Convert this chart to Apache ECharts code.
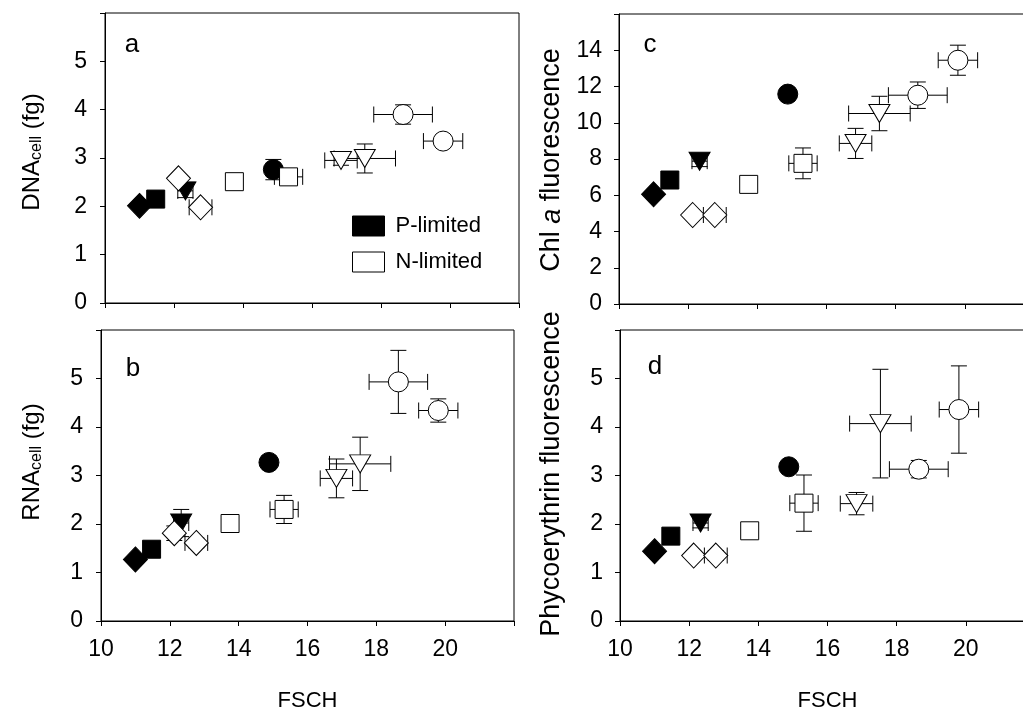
<!DOCTYPE html>
<html>
<head>
<meta charset="utf-8">
<title>FSCH panels</title>
<script src="https://cdn.jsdelivr.net/npm/echarts@6.0.0/dist/echarts.min.js"></script>
<style>
    html, body { margin: 0; padding: 0; background: #fff; }
    #chart { width: 1023px; height: 723px; }
</style>
</head>
<body>
<div id="chart"></div>
<script>
(function () {
    'use strict';

    // one entry per culture, same order in every array
    var limitation = ['P', 'P', 'P', 'P', 'N', 'N', 'N', 'N', 'N', 'N', 'N', 'N'];
    var marker = ['diamond', 'square', 'triangle', 'circle',
        'diamond', 'diamond', 'square', 'square', 'triangle', 'triangle', 'circle', 'circle'];

    var fsch = [11.0, 11.47, 12.33, 14.88, 12.13, 12.77, 13.75, 15.32, 16.84, 17.53, 18.64, 19.8];
    var fschErr = [0.08, 0.1, 0.22, 0.1, 0.1, 0.33, 0.1, 0.41, 0.47, 0.89, 0.85, 0.57];

    var dna = [2.01, 2.15, 2.32, 2.76, 2.58, 1.98, 2.51, 2.61, 2.95, 2.99, 3.9, 3.35];
    var dnaErr = [0.05, 0.05, 0.14, 0.21, 0.05, 0.08, 0.05, 0.1, 0.1, 0.3, 0.2, 0.1];

    var rna = [1.27, 1.48, 2.02, 3.27, 1.81, 1.61, 2.01, 2.3, 2.94, 3.24, 4.93, 4.34];
    var rnaErr = [0.05, 0.05, 0.28, 0.05, 0.15, 0.1, 0.05, 0.29, 0.4, 0.55, 0.65, 0.24];

    var chl = [6.05, 6.84, 7.88, 11.58, 4.91, 4.91, 6.6, 7.76, 8.86, 10.51, 11.52, 13.45];
    var chlErr = [0.1, 0.1, 0.3, 0.1, 0.1, 0.2, 0.1, 0.85, 0.83, 0.95, 0.73, 0.83];

    var pe = [1.44, 1.75, 2.02, 3.18, 1.35, 1.35, 1.86, 2.43, 2.42, 4.07, 3.13, 4.36];
    var peErr = [0.05, 0.05, 0.1, 0.05, 0.05, 0.1, 0.05, 0.58, 0.23, 1.12, 0.18, 0.9];

    var FONT = '"Liberation Sans", Arial, sans-serif';

    var shapes = {
        diamond: {symbol: 'diamond', size: [24, 25], rotate: 0},
        square: {symbol: 'rect', size: [18, 18], rotate: 0},
        triangle: {symbol: 'triangle', size: [21, 18], rotate: 180},
        circle: {symbol: 'circle', size: [20, 20], rotate: 0}
    };

    var panels = [
        {box: {left: 105, top: 13, width: 414, height: 290}, y: dna, yErr: dnaErr, yMax: 6, yStep: 1, yMargin: 18, fschLabels: false},
        {box: {left: 101, top: 330, width: 413, height: 291}, y: rna, yErr: rnaErr, yMax: 6, yStep: 1, yMargin: 18, fschLabels: true},
        {box: {left: 619, top: 14, width: 415, height: 290}, y: chl, yErr: chlErr, yMax: 16, yStep: 2, yMargin: 17, fschLabels: false},
        {box: {left: 620, top: 330, width: 415, height: 291}, y: pe, yErr: peErr, yMax: 6, yStep: 1, yMargin: 17, fschLabels: true}
    ];

    var chart = echarts.init(document.getElementById('chart'));

    var grids = [];
    var xAxes = [];
    var yAxes = [];
    var series = [];

    panels.forEach(function (p, i) {
        grids.push({
            left: p.box.left,
            top: p.box.top,
            width: p.box.width,
            height: p.box.height,
            show: true,
            backgroundColor: '#fff',
            borderColor: '#000',
            borderWidth: 1,
            containLabel: false,
            outerBoundsMode: 'none'
        });

        xAxes.push({
            gridIndex: i,
            type: 'value',
            min: 10,
            max: 22,
            interval: 2,
            axisLine: {show: true, onZero: false, lineStyle: {color: '#000', width: 1}},
            axisTick: {show: true, inside: false, length: 5, lineStyle: {color: '#000', width: 1}},
            axisLabel: {
                show: p.fschLabels,
                margin: 17,
                color: '#000',
                fontSize: 23,
                fontFamily: FONT,
                formatter: function (v) {
                    return v >= 22 ? '' : String(v);
                }
            },
            splitLine: {show: false},
            name: p.fschLabels ? 'FSCH' : '',
            nameLocation: 'middle',
            nameGap: 69,
            nameTextStyle: {color: '#000', fontSize: 22, fontFamily: FONT}
        });

        yAxes.push({
            gridIndex: i,
            type: 'value',
            min: 0,
            max: p.yMax,
            interval: p.yStep,
            axisLine: {show: true, onZero: false, lineStyle: {color: '#000', width: 1}},
            axisTick: {show: true, inside: false, length: 5, lineStyle: {color: '#000', width: 1}},
            axisLabel: {
                margin: p.yMargin,
                color: '#000',
                fontSize: 23,
                fontFamily: FONT,
                formatter: function (v) {
                    return v >= p.yMax ? '' : String(v);
                }
            },
            splitLine: {show: false}
        });

        var errRows = fsch.map(function (x, k) {
            return [x, p.y[k], fschErr[k], p.yErr[k]];
        });

        series.push({
            type: 'custom',
            xAxisIndex: i,
            yAxisIndex: i,
            silent: true,
            clip: false,
            z: 1,
            encode: {x: 0, y: 1},
            data: errRows,
            renderItem: errorBars
        });

        ['P', 'N'].forEach(function (lim) {
            var items = [];
            fsch.forEach(function (x, k) {
                if (limitation[k] !== lim) {
                    return;
                }
                var s = shapes[marker[k]];
                items.push({
                    value: [x, p.y[k]],
                    symbol: s.symbol,
                    symbolSize: s.size,
                    symbolRotate: s.rotate
                });
            });
            series.push({
                type: 'scatter',
                name: lim === 'P' ? 'P-limited' : 'N-limited',
                xAxisIndex: i,
                yAxisIndex: i,
                z: 3,
                silent: true,
                itemStyle: {
                    color: lim === 'P' ? '#000' : '#fff',
                    borderColor: '#000',
                    borderWidth: 1,
                    opacity: 1
                },
                data: items
            });
        });
    });

    function errorBars(params, api) {
        var x = api.value(0);
        var y = api.value(1);
        var xe = api.value(2);
        var ye = api.value(3);
        var l = api.coord([x - xe, y]);
        var r = api.coord([x + xe, y]);
        var t = api.coord([x, y + ye]);
        var b = api.coord([x, y - ye]);
        var cap = 8;
        var style = {stroke: '#000', lineWidth: 1, fill: null};

        function seg(x1, y1, x2, y2) {
            return {type: 'line', shape: {x1: x1, y1: y1, x2: x2, y2: y2}, style: style};
        }

        return {
            type: 'group',
            children: [
                seg(l[0], l[1], r[0], r[1]),
                seg(l[0], l[1] - cap, l[0], l[1] + cap),
                seg(r[0], r[1] - cap, r[0], r[1] + cap),
                seg(t[0], t[1], b[0], b[1]),
                seg(t[0] - cap, t[1], t[0] + cap, t[1]),
                seg(b[0] - cap, b[1], b[0] + cap, b[1])
            ]
        };
    }

    function label(text, x, y, size) {
        return {
            type: 'text',
            x: x,
            y: y,
            z: 10,
            style: {
                text: text,
                fill: '#000',
                fontSize: size,
                fontFamily: FONT,
                align: 'center',
                verticalAlign: 'middle'
            }
        };
    }

    function yTitle(text, x, y, size, rich) {
        return {
            type: 'text',
            x: x,
            y: y,
            z: 10,
            rotation: Math.PI / 2,
            style: {
                text: text,
                fill: '#000',
                fontSize: size,
                fontFamily: FONT,
                align: 'center',
                verticalAlign: 'middle',
                rich: rich
            }
        };
    }

    var subRich = {
        sub: {fontSize: 16, fontFamily: FONT, fill: '#000', padding: [10, 0, 0, 0]}
    };

    chart.setOption({
        backgroundColor: '#fff',
        animation: false,
        textStyle: {fontFamily: FONT},
        grid: grids,
        xAxis: xAxes,
        yAxis: yAxes,
        legend: {
            left: 352,
            top: 215,
            padding: 0,
            orient: 'vertical',
            icon: 'rect',
            itemWidth: 32,
            itemHeight: 20,
            itemGap: 14,
            selectedMode: false,
            textStyle: {color: '#000', fontSize: 22, fontFamily: FONT, padding: [0, 0, 0, 6]},
            data: [
                {name: 'P-limited', itemStyle: {color: '#000', borderColor: '#000', borderWidth: 1}},
                {name: 'N-limited', itemStyle: {color: '#fff', borderColor: '#000', borderWidth: 1}}
            ]
        },
        graphic: [
            label('a', 132, 45, 26),
            label('b', 133, 369, 26),
            label('c', 650, 45, 26),
            label('d', 655, 367, 26),
            yTitle('DNA{sub|cell} (fg)', 32, 152, 24, subRich),
            yTitle('RNA{sub|cell} (fg)', 32, 462, 24, subRich),
            yTitle('Chl {it|a} fluorescence', 552, 160, 27, {
                it: {fontSize: 27, fontFamily: FONT, fontStyle: 'italic', fill: '#000'}
            }),
            yTitle('Phycoerythrin fluorescence', 552, 474, 27)
        ],
        series: series
    });
})();
</script>
</body>
</html>
